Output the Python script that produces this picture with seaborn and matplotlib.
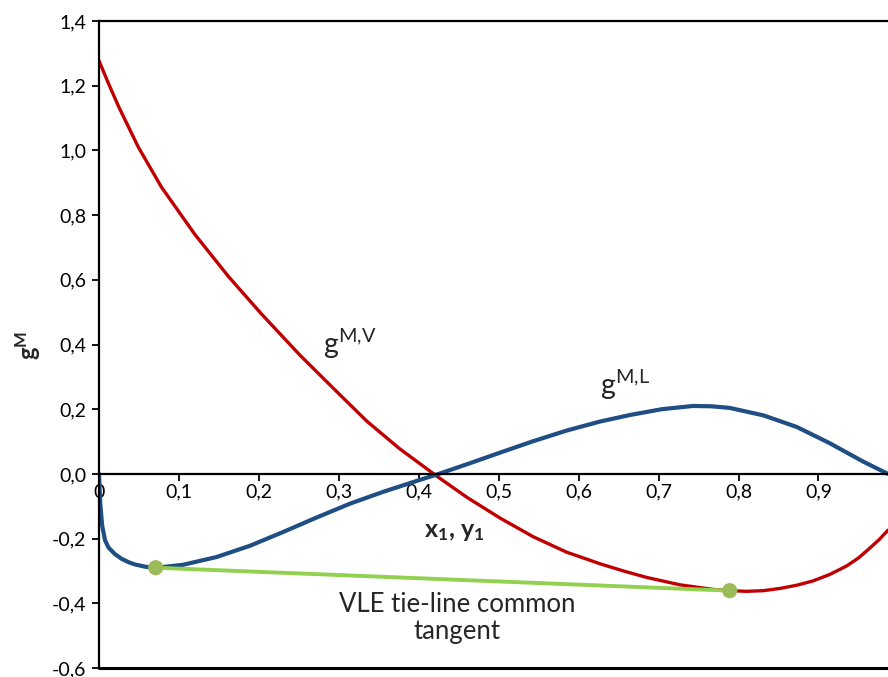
import matplotlib
matplotlib.use("Agg")
import matplotlib.pyplot as plt
import seaborn as sns
import pandas as pd
from matplotlib.ticker import FixedLocator, FuncFormatter

# --- Data (x1/y1, g^M) ---
vap_x = [0.0, 0.012, 0.025, 0.049, 0.078, 0.120, 0.162, 0.203, 0.251, 0.293,
         0.335, 0.376, 0.422, 0.460, 0.502, 0.543, 0.585, 0.627, 0.656, 0.685,
         0.727, 0.768, 0.790, 0.810, 0.831, 0.852, 0.873, 0.893, 0.914, 0.935,
         0.950, 0.964, 0.976, 0.987]
vap_g = [1.277, 1.206, 1.133, 1.011, 0.887, 0.740, 0.610, 0.495, 0.368, 0.265,
         0.163, 0.078, -0.006, -0.072, -0.137, -0.194, -0.242, -0.278, -0.300, -0.320,
         -0.343, -0.357, -0.361, -0.363, -0.361, -0.354, -0.344, -0.331, -0.311, -0.285,
         -0.260, -0.230, -0.203, -0.174]

liq_x = [0.0, 0.0015, 0.004, 0.0075, 0.012, 0.020, 0.028, 0.037, 0.045, 0.058,
         0.072, 0.105, 0.147, 0.189, 0.230, 0.272, 0.314, 0.356, 0.397, 0.425,
         0.464, 0.502, 0.543, 0.585, 0.627, 0.664, 0.704, 0.743, 0.766, 0.789,
         0.831, 0.873, 0.914, 0.956, 0.987]
liq_g = [0.0, -0.090, -0.160, -0.205, -0.228, -0.248, -0.262, -0.273, -0.280, -0.287,
         -0.290, -0.281, -0.257, -0.222, -0.180, -0.135, -0.092, -0.055, -0.022, 0.0,
         0.033, 0.066, 0.101, 0.134, 0.162, 0.182, 0.200, 0.210, 0.209, 0.204,
         0.181, 0.145, 0.095, 0.038, 0.0]

tie_x = [0.071, 0.789]
tie_g = [-0.290, -0.361]

x_ticks = [0.0, 0.1, 0.2, 0.3, 0.4, 0.5, 0.6, 0.7, 0.8, 0.9]
y_ticks = [-0.6, -0.4, -0.2, 0.0, 0.2, 0.4, 0.6, 0.8, 1.0, 1.2, 1.4]

vap_df = pd.DataFrame({"x": vap_x, "g": vap_g})
liq_df = pd.DataFrame({"x": liq_x, "g": liq_g})
tie_df = pd.DataFrame({"x": tie_x, "g": tie_g})

# --- Style ---
sns.set_theme(style="white")
plt.rcParams["font.family"] = ["Lato", "DejaVu Sans"]
plt.rcParams["mathtext.fontset"] = "custom"
plt.rcParams["mathtext.rm"] = "Lato"
plt.rcParams["mathtext.it"] = "Lato:italic"
plt.rcParams["mathtext.bf"] = "Lato:bold"
plt.rcParams["mathtext.default"] = "regular"

fig = plt.figure(figsize=(8.88, 6.77), dpi=100)
ax = fig.add_axes([99 / 888, 9 / 677, 1 - 99 / 888, (668 - 21) / 677])

sns.lineplot(data=vap_df, x="x", y="g", ax=ax, color="#C00000", lw=2.4,
             sort=False, estimator=None)
sns.lineplot(data=liq_df, x="x", y="g", ax=ax, color="#1F4E84", lw=3.0,
             sort=False, estimator=None)
sns.lineplot(data=tie_df, x="x", y="g", ax=ax, color="#92D050", lw=2.8,
             sort=False, estimator=None)
sns.scatterplot(data=tie_df, x="x", y="g", ax=ax, color="#9BBB59", s=120,
                edgecolor="none", zorder=5)

ax.set_xlim(0, 0.987)
ax.set_ylim(-0.6, 1.4)

# axis frame: x-axis sits at y=0, plot border top/bottom
for side in ["top", "left"]:
    ax.spines[side].set_color("black")
    ax.spines[side].set_linewidth(1.6)
ax.spines["right"].set_visible(False)
ax.spines["bottom"].set_position(("data", 0))
ax.spines["bottom"].set_color("black")
ax.spines["bottom"].set_linewidth(1.6)
ax.axhline(-0.6, color="black", lw=2.2, clip_on=False, zorder=6)

ax.xaxis.set_major_locator(FixedLocator(x_ticks))
ax.yaxis.set_major_locator(FixedLocator(y_ticks))


def comma_fmt(v, pos):
    if abs(v) < 1e-9:
        return "0,0"
    return f"{v:.1f}".replace(".", ",")


def x_fmt(v, pos):
    if abs(v) < 1e-9:
        return "0"
    return f"{v:.1f}".replace(".", ",")


ax.yaxis.set_major_formatter(FuncFormatter(comma_fmt))
ax.xaxis.set_major_formatter(FuncFormatter(x_fmt))
ax.tick_params(axis="both", which="major", direction="out", length=5, width=1.3,
               color="black", labelsize=14, labelcolor="black")
ax.tick_params(axis="x", pad=2, bottom=True)
ax.tick_params(axis="y", pad=4, left=True)

ax.set_xlabel("")
ax.set_ylabel("")

ax.text(0.445, -0.178, r"$\mathbf{x_1{,}\ y_1}$", ha="center", va="center",
        fontsize=18)
fig.text(28 / 888, 1 - 345 / 677, r"$\mathbf{g^M}$", rotation=90,
         ha="center", va="center", fontsize=17)

ax.text(0.28, 0.37, r"g$^{M{,}V}$", fontsize=20.5, ha="left", va="baseline")
ax.text(0.627, 0.245, r"g$^{M{,}L}$", fontsize=20.5, ha="left", va="baseline")
ax.text(0.448, -0.445, "VLE tie-line common\ntangent", fontsize=18.5,
        ha="center", va="center", linespacing=1.1)

fig.savefig("out.png", dpi=100)
